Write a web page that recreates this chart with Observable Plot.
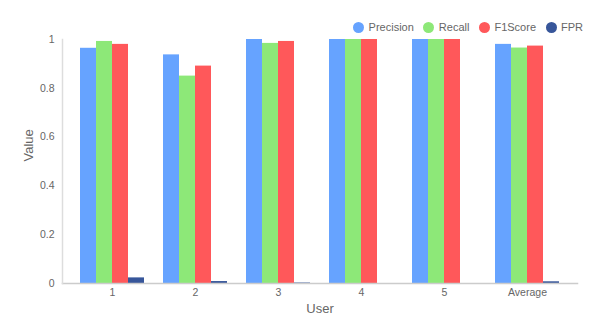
<!DOCTYPE html>
<html>
<head>
<meta charset="utf-8">
<script src="https://cdn.jsdelivr.net/npm/d3@7"></script>
<script src="https://cdn.jsdelivr.net/npm/@observablehq/plot@0.6"></script>
<style>
  html, body { margin: 0; padding: 0; background: #fff; }
  body { width: 598px; height: 316px; position: relative; overflow: hidden; font-family: "Liberation Sans", Arial, sans-serif; }
  #legend { position: absolute; top: 21px; right: 15px; display: flex; align-items: center; font-size: 11px; color: #666; }
  #legend .item { display: flex; align-items: center; margin-left: 9.5px; }
  #legend .dot { width: 11px; height: 11px; border-radius: 50%; margin-right: 4.5px; }
  svg { display: block; }
</style>
</head>
<body>
<div id="legend"></div>
<div id="chart"></div>
<script>
const users = ["1", "2", "3", "4", "5", "Average"];
const metrics = ["Precision", "Recall", "F1Score", "FPR"];
const colors = ["#66a3ff", "#8de878", "#ff585a", "#37569a"];
const precision = [0.964, 0.937, 1.0, 1.0, 1.0, 0.980];
const recall    = [0.992, 0.850, 0.984, 1.0, 1.0, 0.965];
const f1score   = [0.980, 0.891, 0.992, 1.0, 1.0, 0.973];
const fpr       = [0.023, 0.008, 0.002, 0.0, 0.0, 0.007];
const yTicks = [0, 0.2, 0.4, 0.6, 0.8, 1];

const series = [precision, recall, f1score, fpr];
const data = [];
users.forEach((u, i) => metrics.forEach((m, k) => data.push({user: u, metric: m, value: series[k][i]})));

const legend = document.getElementById("legend");
metrics.forEach((m, k) => {
  const it = document.createElement("div");
  it.className = "item";
  it.innerHTML = `<span class="dot" style="background:${colors[k]}"></span><span>${m}</span>`;
  legend.appendChild(it);
});

const pad = 17;
const chart = Plot.plot({
  width: 598,
  height: 316,
  marginLeft: 61 + pad,
  marginRight: 19 + pad,
  marginTop: 39,
  marginBottom: 33,
  style: {fontFamily: "Liberation Sans, Arial, sans-serif", fontSize: "10.5px", color: "#666", background: "transparent"},
  fx: {domain: users, paddingInner: 0.2, paddingOuter: 0, label: null},
  x: {domain: metrics, padding: 0, axis: null},
  y: {domain: [0, 1], label: null},
  color: {domain: metrics, range: colors},
  marks: [
    Plot.barY(data, {fx: "user", x: "metric", y: "value", fill: "metric", inset: 0}),
    Plot.frame({anchor: "bottom", stroke: "#ccc", strokeWidth: 1.5, insetLeft: -pad, insetRight: -pad, facet: "super"}),
    Plot.frame({anchor: "left", stroke: "#ddd", strokeWidth: 1.5, insetLeft: -pad, facet: "super"}),
    Plot.axisY({ticks: yTicks, tickSize: 0, tickPadding: 8, dx: -pad, tickFormat: d3.format("~g"), fill: "#666", label: null}),
    Plot.axisFx({anchor: "bottom", tickSize: 0, tickPadding: 5, fill: "#666", label: null}),
    Plot.text(["User"], {frameAnchor: "bottom", dy: 29.5, fontSize: 13, fill: "#666", facet: "super"}),
    Plot.text(["Value"], {frameAnchor: "left", dx: -50.5, rotate: -90, fontSize: 13, fill: "#666", facet: "super"})
  ]
});
document.getElementById("chart").appendChild(chart);
</script>
</body>
</html>
